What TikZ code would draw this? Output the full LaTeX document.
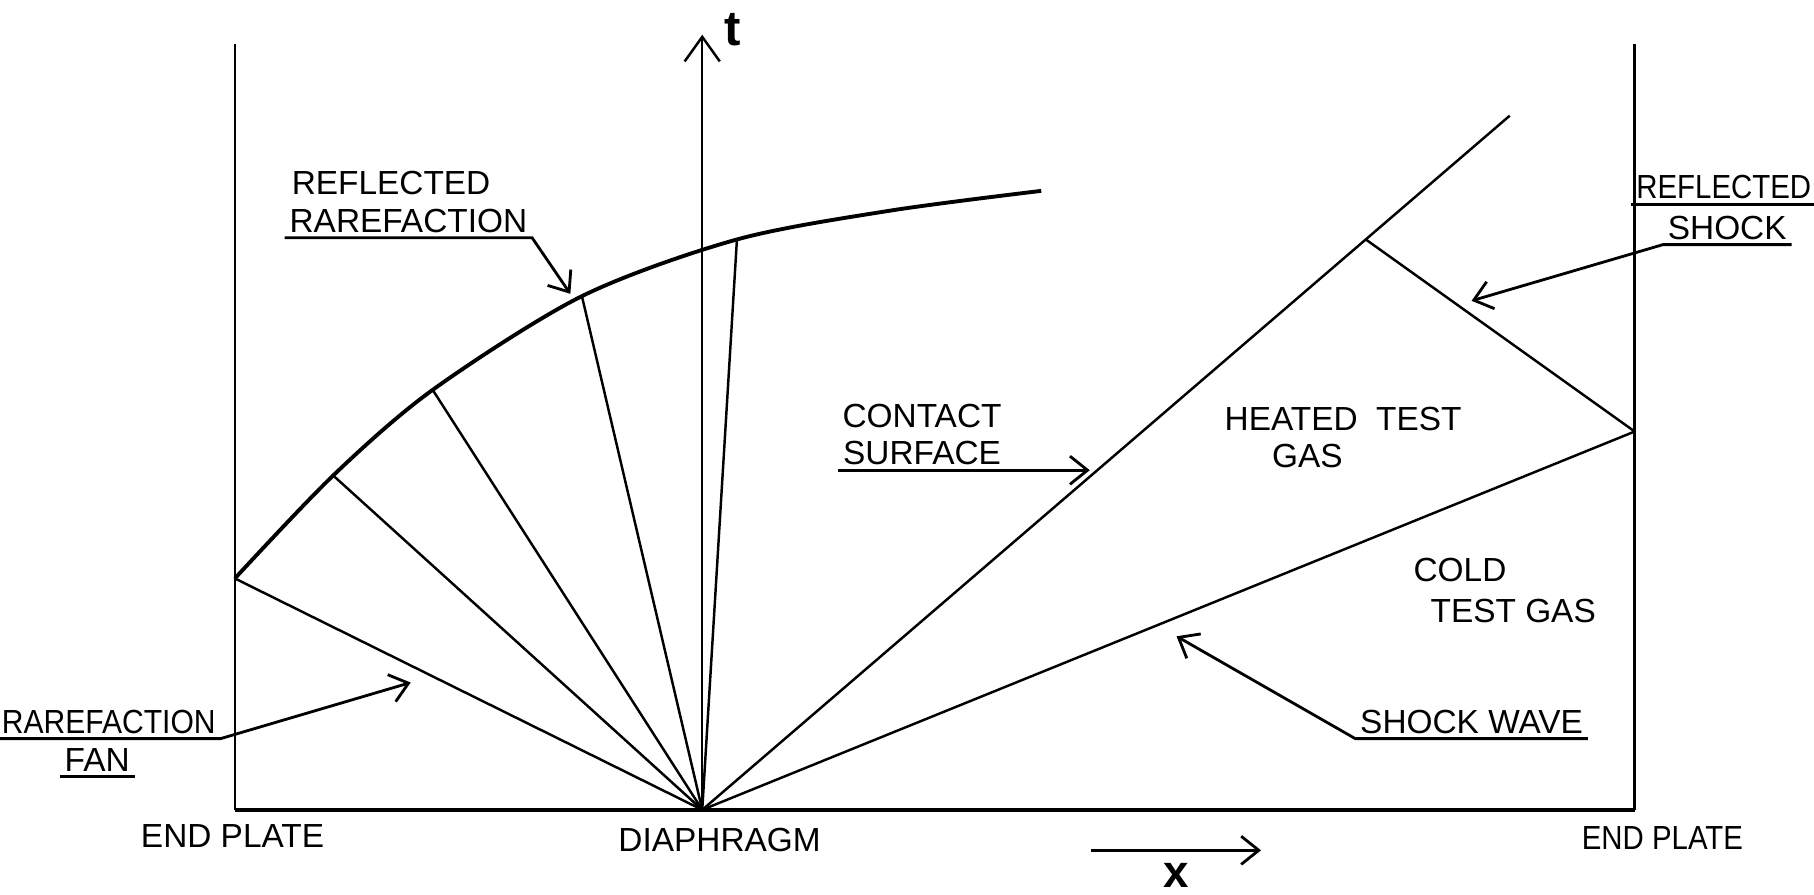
\documentclass[tikz,border=0pt]{standalone}
\usepackage{fontspec}
\setmainfont{Liberation Sans}
\usetikzlibrary{arrows.meta,calc,positioning}
\tikzset{
  lbl/.style={font=\fontsize{9.5}{11}\selectfont,inner sep=1.2pt},
  wave/.style={line width=0.7pt},
  uline/.style={line width=0.8pt},
}

\begin{document}
\begin{tikzpicture}[>={Straight Barb[length=5pt,width=8pt]},x=0.01157cm,y=-0.01157cm]
  \useasboundingbox (0,0) rectangle (1568,773);
  % tube: end plates and diaphragm
  \coordinate (D) at (607,700);
  \coordinate (LT) at (203,38);
  \coordinate (LB) at (203,700);
  \coordinate (RT) at (1413,38);
  \coordinate (RB) at (1413,700);
  \draw[wave] (LT) -- (LB);
  \draw[wave] (RT) -- (RB);
  \draw[line width=1.1pt] (LB) -- (RB);
  % t axis
  \coordinate (T) at (607,30);
  \draw[wave,->,>={Straight Barb[length=7pt,width=10pt]}] (D) -- (T);
  \node[font=\bfseries\fontsize{14}{16}\selectfont] (tlab) at (633,26) {t};
  % reflected rarefaction and the fan
  \coordinate (r0) at (203,500);
  \coordinate (r1) at (288,411);
  \coordinate (r2) at (374,337);
  \coordinate (r3) at (503,256);
  \coordinate (r4) at (637,207);
  \coordinate (r5) at (900,165);
  \draw[line width=1.1pt] plot[smooth] coordinates {(r0) (r1) (r2) (r3) (r4) (770,182) (r5)};
  \foreach \p in {r0,r1,r2,r3,r4}
    \draw[wave] (D) -- (\p);
  % contact surface, shock, reflected shock
  \coordinate (C) at (1305,100);
  \coordinate (S) at (1413,373);
  \coordinate (Q) at ($(D)!0.8217!(C)$);
  \draw[wave] (D) -- (C);
  \draw[wave] (D) -- (S);
  \draw[wave] (S) -- (Q);
  % labels
  \node[lbl] (rr1) at (338,158) {REFLECTED};
  \node[lbl] (rr2) at (353,191) {RAREFACTION};
  \coordinate (rra) at (493,254);
  \draw[uline,->] (rr2.south west) -- (rr2.south east) -- (rra);
  \node[lbl] (cs1) at (797,360) {CONTACT};
  \node[lbl] (cs2) at (797,392) {SURFACE};
  \coordinate (csa) at (942,405);
  \draw[uline,->] (cs2.south west) -- (cs2.south west -| csa);
  \node[lbl] (hot1) at (1161,362) {HEATED\ \ TEST};
  \node[lbl] (hot2) at (1130,394) {GAS};
  \node[lbl] (cold1) at (1262,493) {COLD};
  \node[lbl] (cold2) at (1308,528) {TEST GAS};
  \node[lbl] (sw) at (1272,624) {SHOCK WAVE};
  \coordinate (swa) at (1017,550);
  \draw[uline,->] (sw.south east) -- (sw.south west) -- (swa);
  \node[lbl] (rs1) at (1490,162) {\scalebox{0.88}[1]{REFLECTED}};
  \node[lbl] (rs2) at (1493,197) {SHOCK};
  \coordinate (rsa) at (1272,260);
  \draw[uline] (rs1.south west) -- (rs1.south east);
  \draw[uline,->] (rs2.south east) -- (rs2.south west) -- (rsa);
  \node[lbl] (rf1) at (94,624) {\scalebox{0.9}[1]{RAREFACTION}};
  \node[lbl] (rf2) at (84,657) {FAN};
  \coordinate (rfa) at (355,590);
  \draw[uline,->] (rf1.south west) -- (rf1.south east) -- (rfa);
  \draw[uline] (rf2.south west) -- (rf2.south east);
  \node[lbl] (ep1) at (201,723) {END PLATE};
  \node[lbl] (dia) at (622,726) {DIAPHRAGM};
  \node[lbl] (ep2) at (1437,724) {\scalebox{0.88}[1]{END PLATE}};
  % x direction
  \coordinate (xa) at (943,735);
  \coordinate (xb) at (1090,735);
  \draw[uline,->] (xa) -- (xb);
  \node[font=\bfseries\fontsize{13}{15}\selectfont,inner sep=0pt] (xlab) at (1017,757) {x};
\end{tikzpicture}
\end{document}
